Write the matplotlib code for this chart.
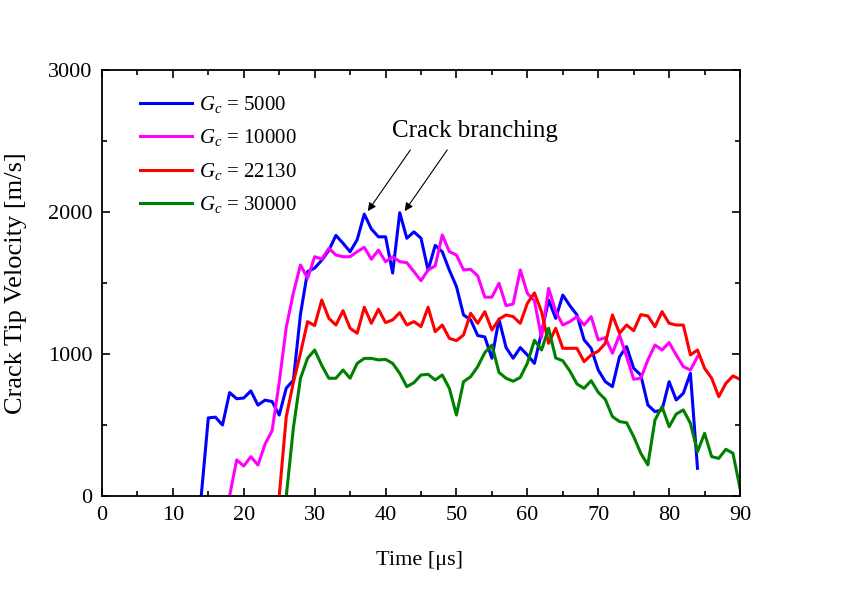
import numpy as np
import matplotlib
matplotlib.use("Agg")
import matplotlib.pyplot as plt
from matplotlib.ticker import MultipleLocator

# --- data (time in us, velocity in m/s) ---
t_5000 = list(range(14, 85))
v_5000 = [0, 550, 555, 500, 728, 685, 690, 740, 640, 675,
          665, 570, 760, 815, 1280, 1580, 1605, 1660, 1730, 1835,
          1780, 1720, 1805, 1985, 1880, 1825, 1825, 1570, 1995, 1815,
          1860, 1815, 1590, 1765, 1720, 1590, 1475, 1275, 1240, 1130,
          1120, 970, 1245, 1045, 970, 1045, 993, 934, 1150, 1380,
          1251, 1415, 1340, 1275, 1100, 1040, 887, 805, 770, 980,
          1052, 899, 852, 641, 594, 606, 805, 676, 723, 864,
          195]

t_10000 = list(range(18, 85))
v_10000 = [0, 254, 211, 277, 218, 365, 460, 800, 1190, 1430,
           1627, 1533, 1685, 1668, 1744, 1697, 1685, 1685, 1721, 1751,
           1667, 1732, 1650, 1685, 1650, 1643, 1580, 1516, 1592, 1620,
           1838, 1721, 1697, 1592, 1596, 1550, 1400, 1400, 1498, 1340,
           1352, 1592, 1427, 1375, 1115, 1462, 1300, 1204, 1228, 1263,
           1204, 1263, 1099, 1115, 1005, 1134, 981, 822, 829, 958,
           1063, 1028, 1080, 993, 911, 887, 981]

t_22130 = list(range(25, 91))
v_22130 = [0, 560, 800, 1005, 1228, 1200, 1380, 1251, 1204, 1305,
           1181, 1146, 1329, 1216, 1315, 1221, 1240, 1291, 1204, 1228,
           1193, 1329, 1157, 1204, 1110, 1094, 1134, 1287, 1216, 1298,
           1169, 1245, 1275, 1263, 1216, 1357, 1430, 1298, 1075, 1181,
           1040, 1040, 1040, 946, 993, 1020, 1075, 1275, 1146, 1204,
           1164, 1277, 1268, 1192, 1298, 1216, 1204, 1204, 993, 1028,
           899, 829, 699, 793, 845, 822]

t_30000 = list(range(26, 91))
v_30000 = [0, 480, 829, 970, 1028, 920, 829, 829, 887, 829,
           934, 969, 969, 958, 962, 934, 864, 770, 798, 852,
           857, 817, 852, 758, 570, 805, 840, 911, 1010, 1063,
           870, 829, 808, 835, 935, 1097, 1028, 1181, 972, 952,
           880, 789, 758, 812, 730, 680, 559, 524, 516, 418,
           301, 219, 535, 629, 488, 577, 606, 512, 312, 441,
           277, 265, 329, 301, 54]

series = [
    (t_5000, v_5000, "#0000ff", "5000"),
    (t_10000, v_10000, "#ff00ff", "10000"),
    (t_22130, v_22130, "#ff0000", "22130"),
    (t_30000, v_30000, "#008000", "30000"),
]

plt.rcParams["font.family"] = ["Liberation Serif", "DejaVu Serif"]
plt.rcParams["mathtext.fontset"] = "custom"
plt.rcParams["mathtext.rm"] = "Liberation Serif"
plt.rcParams["mathtext.it"] = "Liberation Serif:italic"

fig = plt.figure(figsize=(8.42, 5.96), dpi=100)
ax = fig.add_axes([0.1211, 0.1678, 0.7578, 0.7148])

for t, v, c, g in series:
    ax.plot(t, v, color=c, lw=2.2, label=r"$G_c$ = " + g)

ax.set_xlim(0, 90)
ax.set_ylim(0, 3000)
ax.xaxis.set_major_locator(MultipleLocator(10))
ax.xaxis.set_minor_locator(MultipleLocator(5))
ax.yaxis.set_major_locator(MultipleLocator(1000))
ax.yaxis.set_minor_locator(MultipleLocator(500))
ax.tick_params(which="both", direction="in", top=True, right=True,
               labelsize=16, width=1.2)
ax.tick_params(axis="x", pad=7)
ax.tick_params(axis="y", pad=7)
ax.tick_params(which="major", length=6)
ax.tick_params(which="minor", length=3.5)
for s in ax.spines.values():
    s.set_linewidth(1.3)

ax.set_xlabel("Time [\u03bcs]", fontsize=16)
ax.set_ylabel("Crack Tip Velocity [m/s]", fontsize=19)
ax.xaxis.set_label_coords(0.497, -0.128)
ax.yaxis.set_label_coords(-0.118, 0.5)

ax.legend(loc="upper left", bbox_to_anchor=(0.06, 0.944), frameon=False,
          borderpad=0, borderaxespad=0,
          fontsize=15, handlelength=2.5, handletextpad=0.3, labelspacing=0.6)

ax.text(52.6, 2570, "Crack branching", fontsize=18, ha="center", va="center")
ax.annotate("", xy=(37.5, 2006), xytext=(43.5, 2437),
            arrowprops=dict(arrowstyle="-|>", color="black", lw=0.8,
                            mutation_scale=12, shrinkA=0, shrinkB=0))
ax.annotate("", xy=(42.7, 2006), xytext=(48.7, 2437),
            arrowprops=dict(arrowstyle="-|>", color="black", lw=0.8,
                            mutation_scale=12, shrinkA=0, shrinkB=0))

fig.savefig("out.png", dpi=100)
